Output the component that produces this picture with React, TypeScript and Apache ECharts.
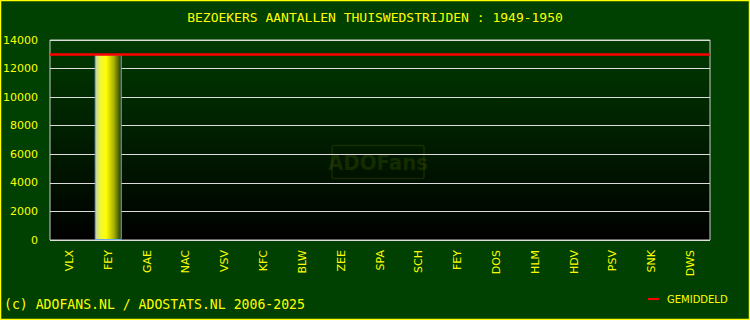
import React, { useEffect, useRef } from "react";
import * as echarts from "echarts";

const categories = ["VLX", "FEY", "GAE", "NAC", "VSV", "KFC", "BLW", "ZEE", "SPA", "SCH", "FEY", "DOS", "HLM", "HDV", "PSV", "SNK", "DWS"];
const bezoekers: (number | null)[] = [null, 13000, null, null, null, null, null, null, null, null, null, null, null, null, null, null, null];
const gemiddeld = 13000;
const yTicks = { min: 0, max: 14000, interval: 2000 };
const titleText = "BEZOEKERS AANTALLEN THUISWEDSTRIJDEN : 1949-1950";
const footerText = "(c) ADOFANS.NL / ADOSTATS.NL 2006-2025";

export default function App() {
  const ref = useRef<HTMLDivElement>(null);
  useEffect(() => {
    if (!ref.current) return;
    const chart = echarts.init(ref.current, undefined, { renderer: "svg" });
    chart.setOption({
      animation: false,
      backgroundColor: "#004000",
      title: {
        text: titleText,
        left: "center",
        top: 6,
        textStyle: { color: "#ffff00", fontFamily: "DejaVu Sans Mono", fontSize: 13, fontWeight: "normal" },
      },
      legend: {
        data: ["GEMIDDELD"],
        left: 643,
        top: 289,
        icon: "rect",
        itemWidth: 11,
        itemHeight: 2,
        itemGap: 8,
        textStyle: { color: "#ffff00", fontFamily: "DejaVu Sans", fontSize: 10, padding: [0, 0, 0, 3] },
      },
      grid: {
        left: 50,
        right: 40,
        top: 40,
        bottom: 80,
        outerBoundsMode: "none",
        containLabel: false,
        show: true,
        borderColor: "#cccccc",
        borderWidth: 1,
        backgroundColor: new echarts.graphic.LinearGradient(0, 0, 0, 1, [
          { offset: 0, color: "#003a00" },
          { offset: 1, color: "#000000" },
        ]),
      },
      xAxis: {
        type: "category",
        data: categories,
        boundaryGap: true,
        axisLine: { show: false },
        axisTick: { show: false },
        axisLabel: { rotate: 90, color: "#ffff00", fontFamily: "DejaVu Sans", fontSize: 11, margin: 10, interval: 0 },
      },
      yAxis: {
        type: "value",
        min: yTicks.min,
        max: yTicks.max,
        interval: yTicks.interval,
        axisLine: { show: false },
        axisTick: { show: false },
        axisLabel: { color: "#ffff00", fontFamily: "DejaVu Sans", fontSize: 11, margin: 12, formatter: (v: number) => String(v) },
        splitLine: { lineStyle: { color: "#dddddd", width: 1 } },
      },
      series: [
        {
          name: "bezoekers",
          type: "bar",
          data: bezoekers,
          barWidth: 27,
          itemStyle: {
            borderColor: "#6fa8e8",
            borderWidth: 1,
            color: new echarts.graphic.LinearGradient(0, 0, 1, 0, [
              { offset: 0, color: "#c0d0b0" },
              { offset: 0.22, color: "#f0f830" },
              { offset: 0.42, color: "#ffff00" },
              { offset: 0.72, color: "#a8b000" },
              { offset: 1, color: "#1e3a00" },
            ]),
          },
          z: 2,
        },
        {
          name: "GEMIDDELD",
          type: "line",
          data: [],
          symbol: "none",
          itemStyle: { color: "#ff0000" },
          lineStyle: { color: "#ff0000", width: 2 },
          markLine: {
            silent: true,
            symbol: ["none", "none"],
            label: { show: false },
            lineStyle: { color: "#ff0000", width: 2.5, type: "solid" },
            data: [{ yAxis: gemiddeld }],
            z: 5,
          },
        },
      ],
      graphic: [
        {
          type: "group",
          left: 328,
          top: 143,
          silent: true,
          z: 1,
          children: [
            {
              type: "rect",
              shape: { x: 0, y: 0, width: 92, height: 33, r: 2 },
              style: { fill: "none", stroke: "rgba(100,120,0,0.22)", lineWidth: 1.5 },
            },
            {
              type: "text",
              x: 46,
              y: 17,
              style: {
                text: "ADOFans",
                fill: "rgba(100,120,0,0.22)",
                font: "bold 22px 'DejaVu Sans Condensed', 'DejaVu Sans'",
                align: "center",
                verticalAlign: "middle",
              },
            },
          ],
        },
        {
          type: "text",
          x: 4,
          y: 304,
          scaleX: 0.94,
          style: {
            text: footerText,
            fill: "#ffff00",
            font: "14px 'DejaVu Sans Mono'",
            verticalAlign: "middle",
          },
        },
        {
          type: "rect",
          shape: { x: 0.5, y: 0.5, width: 749, height: 319 },
          style: { fill: "none", stroke: "#ffff00", lineWidth: 1.5 },
          silent: true,
        },
      ],
    });
    return () => chart.dispose();
  }, []);
  return (
    <div style={{ position: "fixed", left: 0, top: 0, width: 750, height: 320 }}>
      <div ref={ref} style={{ width: 750, height: 320 }} />
    </div>
  );
}
